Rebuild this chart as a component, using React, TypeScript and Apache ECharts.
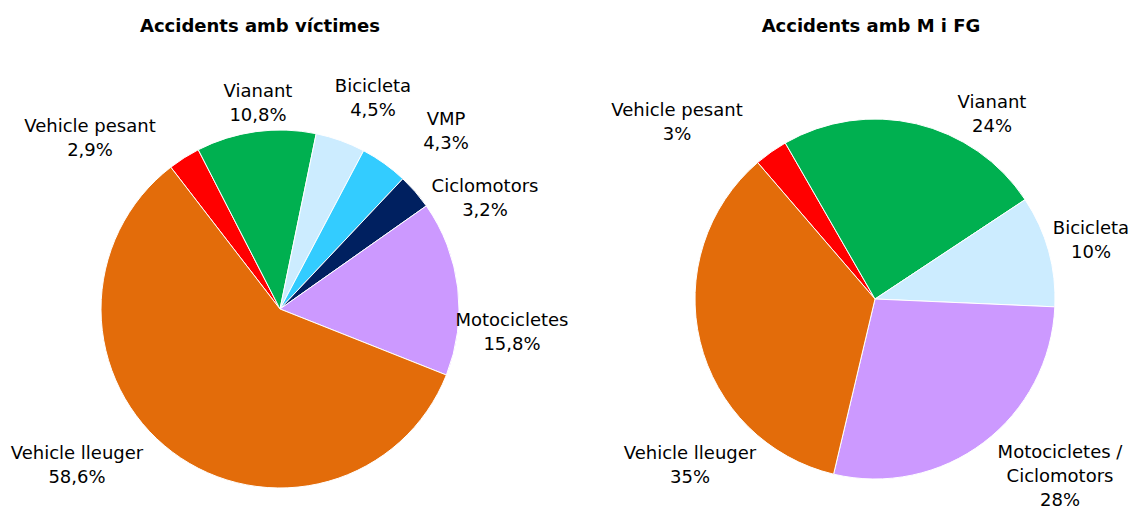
import React, { useEffect, useRef } from "react";
import * as echarts from "echarts";

// ---- Data ----
const leftTitle = "Accidents amb víctimes";
const rightTitle = "Accidents amb M i FG";

const leftCategories = ["Vehicle pesant", "Vianant", "Bicicleta", "VMP", "Ciclomotors", "Motocicletes", "Vehicle lleuger"];
const leftValues = [2.9, 10.8, 4.5, 4.3, 3.2, 15.8, 58.6];
const leftColors = ["#FF0000", "#00B050", "#CCECFF", "#33CCFF", "#002060", "#CC99FF", "#E36C0A"];

const rightCategories = ["Vehicle pesant", "Vianant", "Bicicleta", "Motocicletes / Ciclomotors", "Vehicle lleuger"];
const rightValues = [3, 24, 10, 28, 35];
const rightColors = ["#FF0000", "#00B050", "#CCECFF", "#CC99FF", "#E36C0A"];

// ---- Layout (label centres, px) ----
const leftLabelPos: [number, number][] = [
  [90, 137], [258, 102], [373, 97], [446, 130], [485, 197], [512, 331], [77, 464],
];
const rightLabelPos: [number, number][] = [
  [677, 121], [992, 113], [1091, 239], [1060, 475], [690, 464],
];

const FONT = "'DejaVu Sans', Verdana, sans-serif";

function fmt(v: number) {
  return String(v).replace(".", ",") + "%";
}

export default function App() {
  const ref = useRef<HTMLDivElement>(null);
  useEffect(() => {
    document.body.style.margin = "0";
    const chart = echarts.init(ref.current!, null, { renderer: "svg" });
    const mkSeries = (cats: string[], vals: number[], colors: string[], center: [number, number], radius: number, startAngle: number, pos: [number, number][]) => ({
      type: "pie",
      center,
      radius,
      startAngle,
      clockwise: true,
      avoidLabelOverlap: false,
      data: cats.map((c, i) => ({ name: c, value: vals[i], itemStyle: { color: colors[i] } })),
      itemStyle: { borderColor: "#ffffff", borderWidth: 1 },
      label: {
        show: true,
        position: "outside",
        formatter: (p: any) => p.name.replace(" / ", " /\n") + "\n" + fmt(p.value),
        fontFamily: FONT,
        fontSize: 18,
        lineHeight: 24,
        color: "#000",
        align: "center",
      },
      labelLine: { show: false },
      labelLayout: (p: any) => ({
        x: pos[p.dataIndex][0],
        y: pos[p.dataIndex][1],
        align: "center",
        verticalAlign: "middle",
      }),
      emphasis: { disabled: true },
    });
    chart.setOption({
      animation: false,
      backgroundColor: "#ffffff",
      title: [
        {
          text: leftTitle,
          left: 255,
          top: 11,
          textAlign: "center",
          textStyle: { fontFamily: FONT, fontSize: 18, fontWeight: "bold", color: "#000" },
        },
        {
          text: rightTitle,
          left: 866,
          top: 11,
          textAlign: "center",
          textStyle: { fontFamily: FONT, fontSize: 18, fontWeight: "bold", color: "#000" },
        },
      ],
      series: [
        mkSeries(leftCategories, leftValues, leftColors, [280, 309], 179, 127.6, leftLabelPos),
        mkSeries(rightCategories, rightValues, rightColors, [875, 299], 180, 130.7, rightLabelPos),
      ],
    });
    return () => chart.dispose();
  }, []);
  return <div ref={ref} style={{ width: 1134, height: 509 }} />;
}
